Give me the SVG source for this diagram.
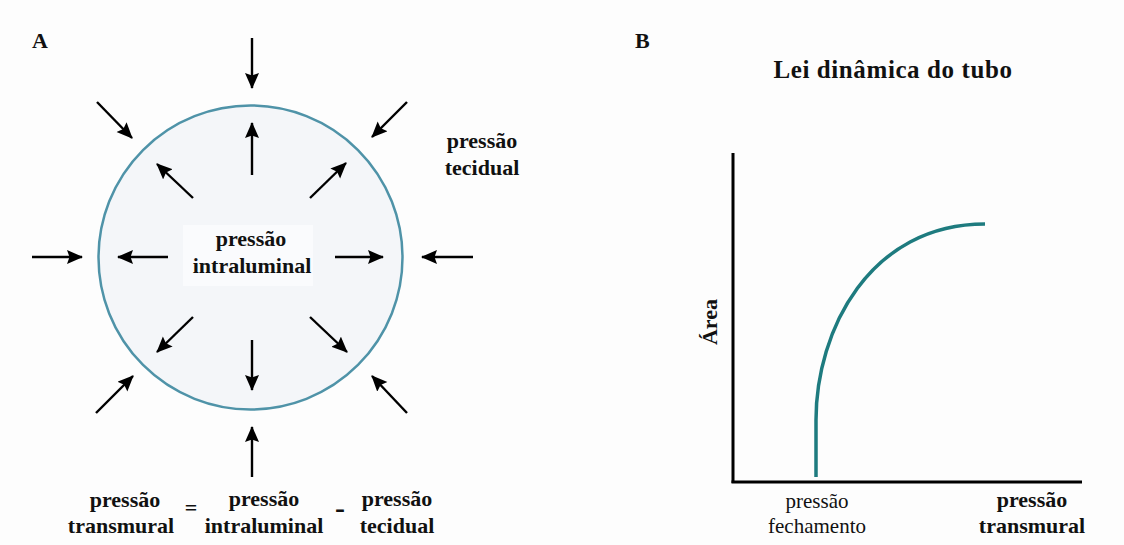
<svg xmlns="http://www.w3.org/2000/svg" width="1124" height="545" viewBox="0 0 1124 545">
<defs>
<marker id="ah" markerUnits="userSpaceOnUse" markerWidth="18" markerHeight="16" refX="15" refY="7" orient="auto">
<path d="M0,0 L16,7 L0,14 L2.5,7 Z" fill="#000"/>
</marker>
<style>
.b{font-family:"Liberation Serif","Times New Roman",serif;font-weight:bold;font-size:22px;fill:#111;text-anchor:middle}
.r{font-family:"Liberation Serif","Times New Roman",serif;font-size:21px;fill:#111;text-anchor:middle}
.arr{stroke:#000;stroke-width:2.4;fill:none;marker-end:url(#ah)}
</style>
</defs>
<rect width="1124" height="545" fill="#fdfdfd"/>
<g id="panelA">
<text x="32" y="48" class="b" style="text-anchor:start">A</text>
<g id="vessel">
<circle cx="250.5" cy="257.5" r="152" fill="#f4f6f9" stroke="#4f93a8" stroke-width="2.5"/>
<rect x="183" y="225" width="130" height="61" fill="#fafbfd"/>
<text x="251" y="246" class="b">pressão</text>
<text x="252" y="273" class="b">intraluminal</text>
</g>
<g id="label-tecidual">
<text x="482" y="148" class="b">pressão</text>
<text x="482" y="175" class="b">tecidual</text>
</g>
<g id="equation">
<text x="125" y="507" class="b">pressão</text>
<text x="121" y="533" class="b">transmural</text>
<text x="191" y="515" class="b">=</text>
<text x="264" y="506" class="b">pressão</text>
<text x="264" y="533" class="b">intraluminal</text>
<text x="340" y="518" class="b" style="font-size:30px">-</text>
<text x="397" y="506" class="b">pressão</text>
<text x="397" y="533" class="b">tecidual</text>
</g>
</g>
<g id="connectors">
<line class="arr" x1="252" y1="38" x2="252" y2="88"/>
<line class="arr" x1="97" y1="102" x2="132" y2="138"/>
<line class="arr" x1="407" y1="102" x2="372" y2="137"/>
<line class="arr" x1="252" y1="175" x2="252" y2="123"/>
<line class="arr" x1="193" y1="198" x2="157" y2="164"/>
<line class="arr" x1="310" y1="198" x2="346" y2="163"/>
<line class="arr" x1="32" y1="257" x2="82" y2="257"/>
<line class="arr" x1="168" y1="257" x2="118" y2="257"/>
<line class="arr" x1="335" y1="257" x2="383" y2="257"/>
<line class="arr" x1="473" y1="257" x2="422" y2="257"/>
<line class="arr" x1="193" y1="317" x2="157" y2="352"/>
<line class="arr" x1="252" y1="340" x2="252" y2="390"/>
<line class="arr" x1="310" y1="317" x2="347" y2="352"/>
<line class="arr" x1="96" y1="413" x2="133" y2="376"/>
<line class="arr" x1="407" y1="413" x2="372" y2="376"/>
<line class="arr" x1="252" y1="477" x2="252" y2="427"/>
</g>
<g id="panelB">
<text x="635" y="48" class="b" style="text-anchor:start">B</text>
<text x="893" y="78" class="b" style="font-size:25px;letter-spacing:0.6px">Lei dinâmica do tubo</text>
<g id="axes">
<line x1="733" y1="153" x2="733" y2="483" stroke="#000" stroke-width="3"/>
<line x1="731.5" y1="482" x2="1082" y2="482" stroke="#000" stroke-width="3"/>
</g>
<path id="curve" d="M816,477 L816,420 C816,330 870,224 985,224" fill="none" stroke="#1e7b7f" stroke-width="3.5"/>
<text class="b" transform="translate(717,322) rotate(-90)">Área</text>
<g id="label-fechamento">
<text x="817" y="508" class="r">pressão</text>
<text x="817" y="533" class="r">fechamento</text>
</g>
<g id="label-transmural">
<text x="1032" y="507" class="b">pressão</text>
<text x="1032" y="533" class="b">transmural</text>
</g>
</g>
</svg>
